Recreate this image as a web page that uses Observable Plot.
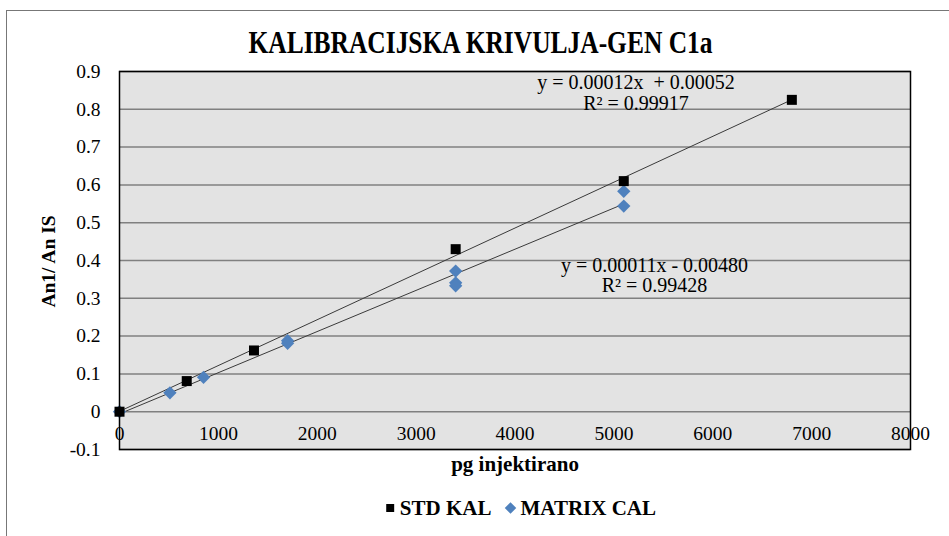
<!DOCTYPE html>
<html>
<head>
<meta charset="utf-8">
<script src="https://cdn.jsdelivr.net/npm/d3@7"></script>
<script src="https://cdn.jsdelivr.net/npm/@observablehq/plot@0.6"></script>
<style>
  html, body { margin: 0; padding: 0; background: white; overflow: hidden; }
  #wrap { position: relative; width: 949px; height: 536px; }
  #border { position: absolute; left: 6px; top: 10px; width: 1000px; height: 600px; border: 1.5px solid #777; pointer-events: none; }
  #wrap svg text { font-family: "Liberation Serif", "Times New Roman", serif; }
</style>
</head>
<body>
<div id="wrap"><div id="border"></div></div>
<script>
// ---- data ----
const titleText = "KALIBRACIJSKA KRIVULJA-GEN C1a";
const xTitle = "pg injektirano";
const yTitle = "An1/ An IS";
const seriesNames = ["STD KAL", "MATRIX CAL"];
const seriesColors = ["#000000", "#4F81BD"];
const seriesSymbols = ["square", "diamond2"];

const stdX = [0, 680, 1360, 3400, 5100, 6800];
const stdY = [0, 0.081, 0.162, 0.430, 0.610, 0.825];

const matX = [0, 510, 850, 1700, 1700, 3400, 3400, 3400, 5100, 5100];
const matY = [0, 0.050, 0.091, 0.188, 0.181, 0.372, 0.341, 0.333, 0.583, 0.544];

const eqStd = ["y = 0.00012x  + 0.00052", "R² = 0.99917"];
const eqMat = ["y = 0.00011x - 0.00480", "R² = 0.99428"];

const xTicks = [0, 1000, 2000, 3000, 4000, 5000, 6000, 7000, 8000];
const yTicks = [-0.1, 0, 0.1, 0.2, 0.3, 0.4, 0.5, 0.6, 0.7, 0.8, 0.9];

// ---- build table ----
const std = stdX.map((x, i) => ({x, y: stdY[i], s: seriesNames[0]}));
const mat = matX.map((x, i) => ({x, y: matY[i], s: seriesNames[1]}));

const serif = '"Liberation Serif", "Times New Roman", serif';
const fmtY = d => String(Math.round(d * 10) / 10);

const legendMarks = [];
const legendDx = [[-124.8, -115.2], [-4.5, 5.5]];
const legendR = [4.5, 5.2];
seriesNames.forEach((name, i) => {
  legendMarks.push(Plot.dot([name], {frameAnchor: "bottom", dx: legendDx[i][0], dy: 58.5,
    symbol: seriesSymbols[i], r: legendR[i], fill: seriesColors[i], stroke: "none"}));
  legendMarks.push(Plot.text([name], {frameAnchor: "bottom", dx: legendDx[i][1], dy: 65,
    text: d => d, textAnchor: "start", lineAnchor: "bottom", fontWeight: "bold", fontSize: 21, fontFamily: serif, fill: "black"}));
});

const chart = Plot.plot({
  width: 949,
  height: 536,
  marginLeft: 119,
  marginRight: 39,
  marginTop: 71,
  marginBottom: 87,
  x: {domain: [0, 8000]},
  y: {domain: [-0.1, 0.9]},
  style: {fontFamily: serif, fontSize: "19.5px", background: "transparent", color: "black", overflow: "visible"},
  marks: [
    Plot.frame({fill: "#e3e3e3", stroke: "none"}),
    Plot.gridY(yTicks, {stroke: "#808080", strokeOpacity: 1, strokeWidth: 1.5}),
    Plot.linearRegressionY(std, {x: "x", y: "y", ci: 0, stroke: "#3a3a3a", strokeWidth: 1}),
    Plot.linearRegressionY(mat, {x: "x", y: "y", ci: 0, stroke: "#3a3a3a", strokeWidth: 1}),
    Plot.dot(mat, {x: "x", y: "y", symbol: seriesSymbols[1], r: 6, fill: seriesColors[1], stroke: "none"}),
    Plot.dot(std, {x: "x", y: "y", symbol: seriesSymbols[0], r: 5.64, fill: seriesColors[0], stroke: "none"}),
    Plot.frame({stroke: "black", strokeWidth: 1.5}),
    Plot.axisY({ticks: yTicks, tickSize: 0, tickPadding: 19, tickFormat: fmtY, label: null, fontSize: 19.5, fontFamily: serif}),
    Plot.axisX({ticks: xTicks, tickSize: 0, tickPadding: 0, dy: -23, tickFormat: d => String(d), label: null, fontSize: 19.5, fontFamily: serif}),
    // trendline labels
    Plot.text([eqStd[0]], {frameAnchor: "top-left", dx: 516.5, dy: 10.7, text: d => d, textAnchor: "middle", lineAnchor: "middle", fontSize: 20, fontFamily: serif}),
    Plot.text([eqStd[1]], {frameAnchor: "top-left", dx: 516.5, dy: 32, text: d => d, textAnchor: "middle", lineAnchor: "middle", fontSize: 20, fontFamily: serif}),
    Plot.text([eqMat[0]], {frameAnchor: "top-left", dx: 535, dy: 194, text: d => d, textAnchor: "middle", lineAnchor: "middle", fontSize: 20, fontFamily: serif}),
    Plot.text([eqMat[1]], {frameAnchor: "top-left", dx: 535, dy: 214, text: d => d, textAnchor: "middle", lineAnchor: "middle", fontSize: 20, fontFamily: serif}),
    // titles
    Plot.text([titleText], {frameAnchor: "top", dx: -34.5, dy: -28.5, text: d => d, textAnchor: "middle", lineAnchor: "middle", fontWeight: "bold", fontSize: 32, fontFamily: serif}),
    Plot.text([xTitle], {frameAnchor: "bottom", dy: 21, text: d => d, textAnchor: "middle", lineAnchor: "bottom", fontWeight: "bold", fontSize: 21, fontFamily: serif}),
    Plot.text([yTitle], {frameAnchor: "left", dx: -71, dy: 1, rotate: -90, text: d => d, textAnchor: "middle", lineAnchor: "middle", fontWeight: "bold", fontSize: 19.5, fontFamily: serif}),
    ...legendMarks
  ]
});

document.getElementById("wrap").prepend(chart);
chart.querySelectorAll("text").forEach(t => {
  if (t.textContent === titleText) {
    t.setAttribute("textLength", "464");
    t.setAttribute("lengthAdjust", "spacingAndGlyphs");
  }
});
</script>
</body>
</html>
